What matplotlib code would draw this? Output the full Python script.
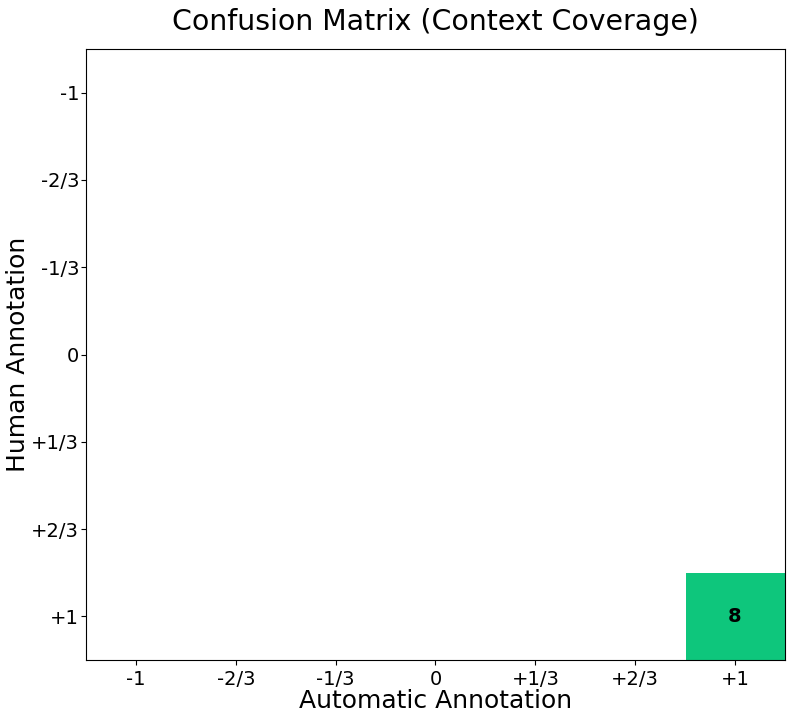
import numpy as np
import matplotlib
matplotlib.use("Agg")
import matplotlib.pyplot as plt
from matplotlib.colors import LinearSegmentedColormap

labels = ["-1", "-2/3", "-1/3", "0", "+1/3", "+2/3", "+1"]
# rows: human annotation, cols: automatic annotation
counts = np.array([
    [0, 0, 0, 0, 0, 0, 0],
    [0, 0, 0, 0, 0, 0, 0],
    [0, 0, 0, 0, 0, 0, 0],
    [0, 0, 0, 0, 0, 0, 0],
    [0, 0, 0, 0, 0, 0, 0],
    [0, 0, 0, 0, 0, 0, 0],
    [0, 0, 0, 0, 0, 0, 8],
])

fig = plt.figure(figsize=(7.93, 7.2), dpi=100)
ax = fig.add_axes([0.1084, 0.0833, 0.8815, 0.8486])

cmap = LinearSegmentedColormap.from_list("g", ["#ffffff", "#0ec67c"])
masked = np.ma.masked_where(counts == 0, counts)
cmap.set_bad("white")
ax.imshow(masked, cmap=cmap, vmin=0, vmax=counts.max(), aspect="auto")

for i in range(counts.shape[0]):
    for j in range(counts.shape[1]):
        if counts[i, j] > 0:
            ax.text(j, i, str(counts[i, j]), ha="center", va="center",
                    fontsize=14, fontweight="bold", color="black")

ax.set_xticks(range(len(labels)))
ax.set_xticklabels(labels, fontsize=14)
ax.set_yticks(range(len(labels)))
ax.set_yticklabels(labels, fontsize=14)
ax.tick_params(axis="y", pad=1.5)
ax.set_xlabel("Automatic Annotation", fontsize=18, labelpad=0)
ax.set_ylabel("Human Annotation", fontsize=18, labelpad=1)
ax.set_title("Confusion Matrix (Context Coverage)", fontsize=20.4, pad=14)

fig.savefig("out.png", dpi=100)
